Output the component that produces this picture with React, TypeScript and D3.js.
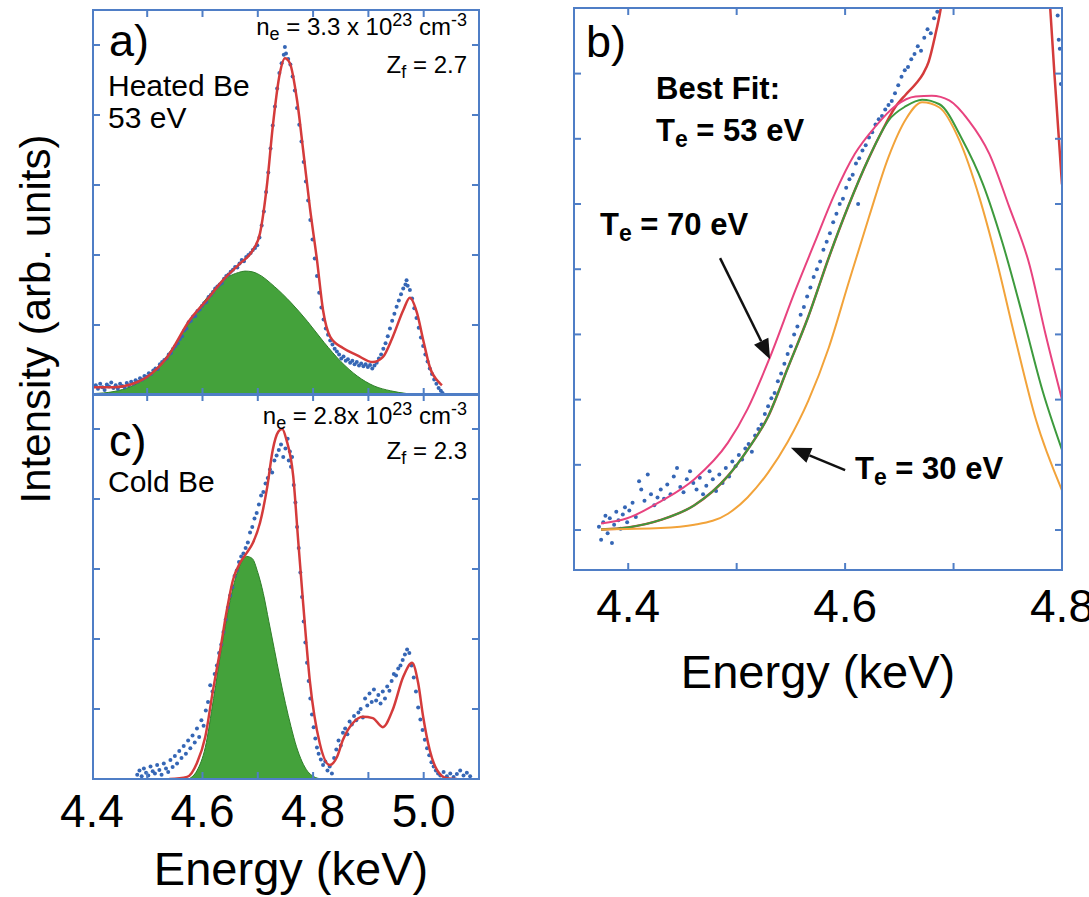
import React from 'react';
import * as d3 from 'd3';

type P = [number, number];

const FONT = "'Liberation Sans', Arial, Helvetica, sans-serif";
const FRAME = '#4f7ec6';
const DOT = '#3566b5';
const RED = '#d43b3b';
const GREEN_FILL = '#44a23b';
const GREEN_EDGE = '#2f7f2a';
const PINK = '#e8437f';
const GREEN_LINE = '#3d9a3d';
const ORANGE = '#f2a33a';

// ---------- Panel a: heated Be ----------
const fitA: P[] = [
  [4.402, 0.11], [4.44, 0.11], [4.47, 0.15], [4.5, 0.26], [4.536, 0.54], [4.577, 1.07], [4.608, 1.36],
  [4.637, 1.64], [4.668, 1.88], [4.691, 2.07], [4.704, 2.31], [4.717, 3.03], [4.727, 3.83], [4.74, 4.6],
  [4.749, 4.81], [4.758, 4.74], [4.771, 4.21], [4.782, 3.5], [4.794, 2.69], [4.807, 1.93], [4.818, 1.21],
  [4.831, 0.83], [4.854, 0.67], [4.879, 0.57], [4.908, 0.47], [4.926, 0.54], [4.944, 0.83], [4.963, 1.21],
  [4.975, 1.39], [4.988, 1.17], [4.999, 0.79], [5.011, 0.4], [5.029, 0.17], [5.033, 0.14],
];
const compA: P[] = [
  [4.402, 0.02], [4.44, 0.05], [4.47, 0.12], [4.5, 0.26], [4.53, 0.5], [4.56, 0.84], [4.59, 1.2],
  [4.62, 1.5], [4.645, 1.68], [4.665, 1.75], [4.677, 1.77], [4.69, 1.76], [4.7, 1.73], [4.73, 1.55],
  [4.76, 1.32], [4.79, 1.05], [4.82, 0.75], [4.85, 0.48], [4.88, 0.27], [4.91, 0.13], [4.94, 0.06],
  [4.97, 0.02], [5.0, 0.0],
];
const dataA: P[] = [
  [4.407,0.14],[4.411,0.09],[4.415,0.16],[4.419,0.11],[4.423,0.07],[4.427,0.15],[4.431,0.12],[4.435,0.18],
  [4.439,0.10],[4.443,0.14],[4.447,0.09],[4.451,0.16],[4.455,0.13],[4.459,0.11],[4.463,0.17],[4.467,0.14],
  [4.471,0.19],[4.475,0.16],[4.479,0.21],[4.483,0.19],[4.487,0.24],[4.491,0.22],[4.495,0.27],[4.499,0.26],
  [4.503,0.31],[4.507,0.30],[4.511,0.35],[4.515,0.38],[4.519,0.37],[4.523,0.44],[4.527,0.47],[4.531,0.50],
  [4.535,0.52],[4.539,0.58],[4.543,0.60],[4.547,0.66],[4.551,0.70],[4.555,0.74],[4.559,0.80],[4.563,0.84],
  [4.567,0.92],[4.571,0.95],[4.575,1.04],[4.579,1.06],[4.583,1.12],[4.587,1.13],[4.591,1.20],[4.595,1.22],
  [4.599,1.27],[4.603,1.31],[4.607,1.33],[4.611,1.40],[4.615,1.43],[4.619,1.47],[4.623,1.52],[4.627,1.55],
  [4.631,1.58],[4.635,1.60],[4.639,1.66],[4.643,1.70],[4.647,1.72],[4.651,1.76],[4.655,1.79],[4.659,1.83],
  [4.663,1.82],[4.667,1.88],[4.671,1.93],[4.675,1.91],[4.679,1.97],[4.683,2.00],[4.687,2.03],[4.691,2.07],
  [4.695,2.10],[4.699,2.14],[4.703,2.25],[4.707,2.42],[4.711,2.62],[4.715,2.90],[4.719,3.18],[4.723,3.52],
  [4.727,3.85],[4.731,4.12],[4.735,4.38],[4.739,4.60],[4.743,4.74],[4.747,4.86],[4.749,4.97],[4.751,4.88],
  [4.755,4.80],[4.759,4.72],[4.763,4.55],[4.767,4.35],[4.771,4.10],[4.775,3.86],[4.779,3.62],[4.783,3.33],
  [4.787,3.05],[4.791,2.78],[4.795,2.50],[4.799,2.22],[4.803,1.95],[4.807,1.70],[4.811,1.46],[4.815,1.25],
  [4.819,1.08],[4.823,0.95],[4.827,0.86],[4.831,0.78],[4.835,0.72],[4.839,0.66],[4.843,0.62],[4.847,0.58],
  [4.851,0.52],[4.855,0.55],[4.859,0.49],[4.863,0.51],[4.867,0.46],[4.871,0.49],[4.875,0.44],[4.879,0.47],
  [4.883,0.42],[4.887,0.45],[4.891,0.41],[4.895,0.44],[4.899,0.40],[4.903,0.43],[4.907,0.38],[4.911,0.42],
  [4.915,0.46],[4.919,0.52],[4.923,0.58],[4.927,0.66],[4.931,0.74],[4.935,0.84],[4.939,0.95],[4.943,1.06],
  [4.947,1.16],[4.951,1.26],[4.955,1.35],[4.959,1.44],[4.963,1.52],[4.967,1.58],[4.969,1.64],[4.971,1.56],
  [4.975,1.50],[4.979,1.38],[4.983,1.24],[4.987,1.10],[4.991,0.96],[4.995,0.82],[4.999,0.70],[5.003,0.58],
  [5.007,0.48],[5.011,0.38],[5.015,0.30],[5.019,0.22],[5.023,0.16],[5.027,0.10],[5.031,0.06],[5.034,0.03],
];

// ---------- Panel c: cold Be ----------
const fitC: P[] = [
  [4.54, 0.0], [4.572, 0.03], [4.59, 0.23], [4.605, 0.6], [4.619, 1.27], [4.632, 1.84], [4.644, 2.41],
  [4.655, 2.84], [4.668, 3.09], [4.68, 3.23], [4.691, 3.37], [4.704, 3.66], [4.717, 4.17], [4.727, 4.7],
  [4.737, 4.96], [4.744, 5.0], [4.752, 4.84], [4.764, 4.33], [4.773, 3.41], [4.782, 2.51], [4.794, 1.41],
  [4.812, 0.51], [4.83, 0.2], [4.843, 0.31], [4.854, 0.56], [4.872, 0.8], [4.89, 0.89], [4.908, 0.87],
  [4.926, 0.74], [4.944, 0.99], [4.963, 1.46], [4.979, 1.66], [4.99, 1.37], [4.999, 0.89], [5.011, 0.41],
  [5.024, 0.13], [5.042, 0.01], [5.06, 0.0],
];
const compC: P[] = [
  [4.575, 0.0], [4.59, 0.12], [4.605, 0.45], [4.62, 1.15], [4.635, 1.9], [4.65, 2.55], [4.665, 3.0],
  [4.68, 3.18], [4.69, 3.15], [4.7, 2.95], [4.71, 2.65], [4.72, 2.25], [4.73, 1.85], [4.74, 1.45],
  [4.75, 1.08], [4.76, 0.75], [4.77, 0.46], [4.78, 0.25], [4.79, 0.11], [4.8, 0.04], [4.815, 0.0],
];
const dataC: P[] = [
  [4.482,0.06],[4.486,0.12],[4.490,0.04],[4.494,0.15],[4.498,0.09],[4.502,0.05],[4.506,0.18],[4.510,0.11],
  [4.514,0.08],[4.518,0.20],[4.522,0.13],[4.526,0.06],[4.530,0.22],[4.534,0.15],[4.538,0.10],[4.542,0.27],
  [4.546,0.17],[4.550,0.33],[4.554,0.22],[4.558,0.40],[4.562,0.30],[4.566,0.47],[4.570,0.36],[4.574,0.55],
  [4.578,0.44],[4.582,0.62],[4.586,0.52],[4.590,0.72],[4.594,0.60],[4.598,0.84],[4.602,0.76],[4.606,0.98],
  [4.610,1.10],[4.614,1.34],[4.618,1.25],[4.622,1.50],[4.626,1.62],[4.630,1.80],[4.634,1.92],[4.638,2.10],
  [4.642,2.28],[4.646,2.45],[4.650,2.62],[4.654,2.74],[4.658,2.90],[4.662,2.98],[4.666,3.10],[4.670,3.18],
  [4.674,3.22],[4.678,3.30],[4.682,3.38],[4.686,3.52],[4.690,3.60],[4.694,3.72],[4.698,3.80],[4.702,3.92],
  [4.706,4.05],[4.710,4.10],[4.714,4.22],[4.718,4.30],[4.722,4.42],[4.726,4.38],[4.730,4.55],[4.734,4.62],
  [4.738,4.70],[4.742,4.78],[4.746,4.60],[4.750,4.72],[4.754,4.86],[4.756,4.55],[4.758,4.68],[4.760,4.46],
  [4.762,4.60],[4.765,4.20],[4.768,3.95],[4.771,3.60],[4.774,3.30],[4.777,2.95],[4.780,2.60],[4.783,2.25],
  [4.786,1.95],[4.789,1.66],[4.792,1.40],[4.795,1.15],[4.798,0.92],[4.801,0.74],[4.804,0.58],[4.807,0.45],
  [4.810,0.36],[4.814,0.28],[4.818,0.20],[4.822,0.25],[4.826,0.12],[4.830,0.18],[4.834,0.08],[4.838,0.30],
  [4.842,0.42],[4.846,0.55],[4.850,0.48],[4.854,0.66],[4.858,0.72],[4.862,0.64],[4.866,0.82],[4.870,0.78],
  [4.874,0.90],[4.878,0.84],[4.882,0.95],[4.886,1.00],[4.890,0.88],[4.894,1.15],[4.898,1.05],[4.902,1.22],
  [4.906,1.10],[4.910,1.28],[4.914,1.12],[4.918,1.20],[4.922,1.08],[4.926,1.25],[4.930,1.15],[4.934,1.32],
  [4.938,1.26],[4.942,1.40],[4.946,1.50],[4.950,1.48],[4.954,1.58],[4.958,1.62],[4.962,1.70],[4.966,1.78],
  [4.970,1.85],[4.974,1.80],[4.978,1.62],[4.982,1.45],[4.986,1.25],[4.990,1.02],[4.994,0.85],[4.998,0.70],
  [5.002,0.56],[5.006,0.44],[5.010,0.34],[5.014,0.24],[5.018,0.18],[5.022,0.12],[5.026,0.08],[5.030,0.05],
  [5.036,0.10],[5.042,0.04],[5.048,0.08],[5.054,0.03],[5.060,0.07],[5.066,0.12],[5.072,0.05],[5.078,0.09],
  [5.084,0.04],
];

// ---------- Panel b: zoom on the Compton feature ----------
const fitB: P[] = [
  [4.375, 0.01], [4.4, 0.04], [4.43, 0.155], [4.461, 0.38], [4.492, 0.83], [4.51, 1.23], [4.529, 1.74],
  [4.547, 2.48], [4.566, 3.27], [4.585, 4.18], [4.603, 4.97], [4.622, 5.71], [4.635, 6.15], [4.646, 6.48],
  [4.656, 6.68], [4.665, 6.84], [4.672, 7.0], [4.677, 7.18], [4.683, 7.58], [4.688, 7.98], [4.691, 8.3],
];
const fitBRight: P[] = [[4.788, 8.3], [4.793, 7.0], [4.8, 5.3]];
const te70: P[] = [
  [4.375, 0.1], [4.399, 0.18], [4.43, 0.44], [4.461, 0.78], [4.492, 1.34], [4.51, 1.855], [4.53, 2.62],
  [4.554, 3.67], [4.572, 4.41], [4.59, 5.14], [4.609, 5.77], [4.628, 6.19], [4.646, 6.5], [4.665, 6.65],
  [4.68, 6.66], [4.696, 6.59], [4.714, 6.28], [4.733, 5.77], [4.751, 4.97], [4.77, 4.07], [4.785, 2.99],
  [4.8, 2.0],
];
const te53: P[] = [
  [4.375, 0.01], [4.4, 0.04], [4.43, 0.155], [4.461, 0.38], [4.492, 0.83], [4.51, 1.23], [4.529, 1.74],
  [4.547, 2.48], [4.566, 3.27], [4.585, 4.18], [4.603, 4.97], [4.622, 5.71], [4.64, 6.28], [4.656, 6.5],
  [4.671, 6.6], [4.687, 6.53], [4.708, 5.99], [4.727, 5.31], [4.745, 4.41], [4.764, 3.27], [4.782, 2.14],
  [4.8, 1.23],
];
const te30: P[] = [
  [4.375, 0.01], [4.43, 0.03], [4.461, 0.08], [4.492, 0.25], [4.51, 0.5], [4.529, 0.88], [4.547, 1.35],
  [4.566, 1.98], [4.585, 2.8], [4.603, 3.78], [4.622, 4.8], [4.64, 5.72], [4.656, 6.3], [4.671, 6.56],
  [4.687, 6.48], [4.705, 5.99], [4.724, 5.09], [4.739, 4.18], [4.757, 2.93], [4.776, 1.69], [4.8, 0.61],
];
const dataB: P[] = [
  [4.373,0.05],[4.375,-0.15],[4.377,0.12],[4.379,0.22],[4.381,-0.05],[4.383,0.18],[4.385,-0.2],[4.387,0.08],
  [4.389,0.28],[4.391,0.15],[4.393,0.02],[4.395,0.24],[4.397,0.35],[4.399,0.12],[4.401,0.3],[4.404,0.42],
  [4.407,0.2],[4.410,0.75],[4.412,0.62],[4.415,0.45],[4.418,0.85],[4.421,0.55],[4.424,0.38],[4.427,0.5],
  [4.430,0.62],[4.433,0.48],[4.436,0.7],[4.439,0.55],[4.442,0.82],[4.445,0.95],[4.448,0.66],[4.451,0.58],
  [4.454,0.78],[4.457,0.9],[4.460,0.72],[4.463,0.62],[4.466,0.8],[4.469,0.55],[4.472,0.68],[4.475,0.9],
  [4.478,0.78],[4.481,0.6],[4.484,0.85],[4.487,0.72],[4.490,0.95],[4.493,0.82],[4.496,1.05],[4.499,0.98],
  [4.502,1.15],[4.505,1.08],[4.508,1.25],[4.511,1.32],[4.514,1.2],[4.517,1.45],[4.520,1.55],[4.523,1.62],
  [4.526,1.78],[4.529,1.9],[4.532,2.02],[4.535,2.1],[4.538,2.28],[4.541,2.4],[4.544,2.55],[4.547,2.7],
  [4.550,2.82],[4.553,3.0],[4.556,3.12],[4.559,3.3],[4.562,3.42],[4.565,3.58],[4.568,3.72],[4.571,3.88],
  [4.574,4.0],[4.577,4.12],[4.580,4.3],[4.583,4.42],[4.586,4.55],[4.589,4.72],[4.592,4.85],[4.595,5.0],
  [4.598,5.08],[4.601,5.25],[4.604,5.38],[4.607,5.45],[4.610,5.62],[4.612,5.0],[4.613,5.7],[4.616,5.82],
  [4.619,5.9],[4.622,6.02],[4.625,6.1],[4.628,6.22],[4.631,6.3],[4.634,6.35],[4.637,6.45],[4.640,6.52],
  [4.643,6.58],[4.646,6.7],[4.649,6.82],[4.652,6.95],[4.655,7.05],[4.658,7.1],[4.661,7.22],[4.664,7.3],
  [4.667,7.42],[4.670,7.35],[4.673,7.55],[4.676,7.68],[4.679,7.62],[4.682,7.85],[4.685,7.95],
  [4.796,7.89],[4.797,7.52],[4.798,7.38],[4.799,6.84],
];

const xTicksAC = [4.5, 4.6, 4.7, 4.8, 4.9, 5.0];
const xLabelsAC = [4.4, 4.6, 4.8, 5.0];
const yTicksAC = [1, 2, 3, 4, 5];
const xTicksB = [4.4, 4.5, 4.6, 4.7];
const xLabelsB = [4.4, 4.6, 4.8];
const yTicksB = [0, 1, 2, 3, 4, 5, 6, 7];

// arrows (data coords of panel b): [tail, tip]
const arrow70: P[] = [[4.4847, 4.17], [4.5308, 2.62]];
const arrow30: P[] = [[4.6, 0.92], [4.55, 1.26]];

type Scale = d3.ScaleLinear<number, number>;

function FrameTicks({ xs, ys, xt, yt }: { xs: Scale; ys: Scale; xt: number[]; yt: number[] }) {
  const [x0, x1] = xs.range();
  const [yb, ytop] = ys.range();
  const L = 7;
  return (
    <g stroke={FRAME} strokeWidth={2} fill="none">
      <rect x={x0} y={ytop} width={x1 - x0} height={yb - ytop} />
      {xt.map((t) => (
        <g key={'x' + t}>
          <line x1={xs(t)} x2={xs(t)} y1={yb} y2={yb - L} />
          <line x1={xs(t)} x2={xs(t)} y1={ytop} y2={ytop + L} />
        </g>
      ))}
      {yt.map((t) => (
        <g key={'y' + t}>
          <line x1={x0} x2={x0 + L} y1={ys(t)} y2={ys(t)} />
          <line x1={x1} x2={x1 - L} y1={ys(t)} y2={ys(t)} />
        </g>
      ))}
    </g>
  );
}

function Arrow({ pts, xs, ys }: { pts: P[]; xs: Scale; ys: Scale }) {
  const [ax, ay] = [xs(pts[0][0]), ys(pts[0][1])];
  const [bx, by] = [xs(pts[1][0]), ys(pts[1][1])];
  const dx = bx - ax, dy = by - ay;
  const len = Math.hypot(dx, dy);
  const ux = dx / len, uy = dy / len;
  const hl = 20, hw = 8;
  const baseX = bx - ux * hl, baseY = by - uy * hl;
  const px = -uy, py = ux;
  return (
    <g>
      <line x1={ax} y1={ay} x2={baseX} y2={baseY} stroke="#111" strokeWidth={2.5} />
      <polygon
        points={`${bx},${by} ${baseX + px * hw},${baseY + py * hw} ${baseX - px * hw},${baseY - py * hw}`}
        fill="#111"
      />
    </g>
  );
}

export default function App() {
  const xA = d3.scaleLinear().domain([4.402, 5.1]).range([93, 479]);
  const yA = d3.scaleLinear().domain([0, 5.5]).range([395, 10]);
  const yC = d3.scaleLinear().domain([0, 5.5]).range([779, 394]);
  const xB = d3.scaleLinear().domain([4.35, 4.8]).range([574, 1062]);
  const yB = d3.scaleLinear().domain([-0.613, 8.006]).range([570, 8]);

  const lineFor = (xs: Scale, ys: Scale) =>
    d3.line<P>().x((d) => xs(d[0])).y((d) => ys(d[1])).curve(d3.curveMonotoneX);
  const areaFor = (xs: Scale, ys: Scale) =>
    d3.area<P>().x((d) => xs(d[0])).y0(ys(0)).y1((d) => ys(d[1])).curve(d3.curveMonotoneX);

  const lA = lineFor(xA, yA), lC = lineFor(xA, yC), lB = lineFor(xB, yB);
  const aA = areaFor(xA, yA), aC = areaFor(xA, yC);
  const fmt = d3.format('.1f');

  const clip = (id: string, xs: Scale, ys: Scale) => {
    const [x0, x1] = xs.range();
    const [yb, yt] = ys.range();
    return (
      <clipPath id={id}>
        <rect x={x0} y={yt} width={x1 - x0} height={yb - yt} />
      </clipPath>
    );
  };

  const sub = 18;
  const R = 2;
  return (
    <svg
      width={1089}
      height={897}
      style={{ position: 'absolute', left: 0, top: 0, background: '#fff' }}
      fontFamily={FONT}
    >
      <defs>
        {clip('clipA', xA, yA)}
        {clip('clipC', xA, yC)}
        {clip('clipB', xB, yB)}
      </defs>

      {/* Panel a */}
      <g clipPath="url(#clipA)">
        <path d={aA(compA) || ''} fill={GREEN_FILL} stroke={GREEN_EDGE} strokeWidth={1} />
        {dataA.map((d, i) => (
          <circle key={i} cx={xA(d[0])} cy={yA(d[1])} r={R} fill={DOT} />
        ))}
        <path d={lA(fitA) || ''} fill="none" stroke={RED} strokeWidth={2.5} />
      </g>
      <FrameTicks xs={xA} ys={yA} xt={xTicksAC} yt={yTicksAC} />

      {/* Panel c */}
      <g clipPath="url(#clipC)">
        <path d={aC(compC) || ''} fill={GREEN_FILL} stroke={GREEN_EDGE} strokeWidth={1} />
        {dataC.map((d, i) => (
          <circle key={i} cx={xA(d[0])} cy={yC(d[1])} r={R} fill={DOT} />
        ))}
        <path d={lC(fitC) || ''} fill="none" stroke={RED} strokeWidth={2.5} />
      </g>
      <FrameTicks xs={xA} ys={yC} xt={xTicksAC} yt={yTicksAC} />

      {/* Panel b */}
      <g clipPath="url(#clipB)">
        {dataB.map((d, i) => (
          <circle key={i} cx={xB(d[0])} cy={yB(d[1])} r={R} fill={DOT} />
        ))}
        <path d={lB(fitB) || ''} fill="none" stroke={RED} strokeWidth={2.5} />
        <path d={lB(fitBRight) || ''} fill="none" stroke={RED} strokeWidth={2.5} />
        <path d={lB(te70) || ''} fill="none" stroke={PINK} strokeWidth={2} />
        <path d={lB(te53) || ''} fill="none" stroke={GREEN_LINE} strokeWidth={2} />
        <path d={lB(te30) || ''} fill="none" stroke={ORANGE} strokeWidth={2} />
      </g>
      <FrameTicks xs={xB} ys={yB} xt={xTicksB} yt={yTicksB} />

      {/* x tick labels */}
      {xLabelsAC.map((t) => (
        <text key={'la' + t} x={xA(t)} y={827} fontSize={46} textAnchor="middle" fill="#000">
          {fmt(t)}
        </text>
      ))}
      {xLabelsB.map((t) => (
        <text key={'lb' + t} x={xB(t)} y={622} fontSize={46} textAnchor="middle" fill="#000">
          {fmt(t)}
        </text>
      ))}

      {/* axis titles */}
      <text x={291} y={885} fontSize={47} textAnchor="middle">Energy (keV)</text>
      <text x={818} y={688} fontSize={47} textAnchor="middle">Energy (keV)</text>
      <text transform="translate(50,319) rotate(-90)" fontSize={42} textAnchor="middle">
        Intensity (arb. units)
      </text>

      {/* panel a annotations */}
      <text x={109} y={56} fontSize={45}>a)</text>
      <text x={108} y={96} fontSize={30}>Heated Be</text>
      <text x={108} y={128} fontSize={30}>53 eV</text>
      <text x={467} y={35} fontSize={24} textAnchor="end">
        <tspan>n</tspan>
        <tspan dy={5} fontSize={sub}>e</tspan>
        <tspan dy={-5}> = 3.3 x 10</tspan>
        <tspan dy={-9} fontSize={sub}>23</tspan>
        <tspan dy={9}> cm</tspan>
        <tspan dy={-9} fontSize={sub}>-3</tspan>
      </text>
      <text x={467} y={73} fontSize={24} textAnchor="end">
        <tspan>Z</tspan>
        <tspan dy={5} fontSize={sub}>f</tspan>
        <tspan dy={-5}> = 2.7</tspan>
      </text>

      {/* panel c annotations */}
      <text x={109} y={456} fontSize={45}>c)</text>
      <text x={108} y={492} fontSize={30}>Cold Be</text>
      <text x={467} y={424} fontSize={24} textAnchor="end">
        <tspan>n</tspan>
        <tspan dy={5} fontSize={sub}>e</tspan>
        <tspan dy={-5}> = 2.8x 10</tspan>
        <tspan dy={-9} fontSize={sub}>23</tspan>
        <tspan dy={9}> cm</tspan>
        <tspan dy={-9} fontSize={sub}>-3</tspan>
      </text>
      <text x={467} y={459} fontSize={24} textAnchor="end">
        <tspan>Z</tspan>
        <tspan dy={5} fontSize={sub}>f</tspan>
        <tspan dy={-5}> = 2.3</tspan>
      </text>

      {/* panel b annotations */}
      <text x={586} y={57} fontSize={45}>b)</text>
      <text x={656} y={99} fontSize={31} fontWeight="bold">Best Fit:</text>
      <text x={656} y={141} fontSize={31} fontWeight="bold">
        <tspan>T</tspan>
        <tspan dy={6} fontSize={23}>e</tspan>
        <tspan dy={-6}> = 53 eV</tspan>
      </text>
      <text x={600} y={235} fontSize={31} fontWeight="bold">
        <tspan>T</tspan>
        <tspan dy={6} fontSize={23}>e</tspan>
        <tspan dy={-6}> = 70 eV</tspan>
      </text>
      <text x={855} y={479} fontSize={31} fontWeight="bold">
        <tspan>T</tspan>
        <tspan dy={6} fontSize={23}>e</tspan>
        <tspan dy={-6}> = 30 eV</tspan>
      </text>
      <Arrow pts={arrow70} xs={xB} ys={yB} />
      <Arrow pts={arrow30} xs={xB} ys={yB} />
    </svg>
  );
}
